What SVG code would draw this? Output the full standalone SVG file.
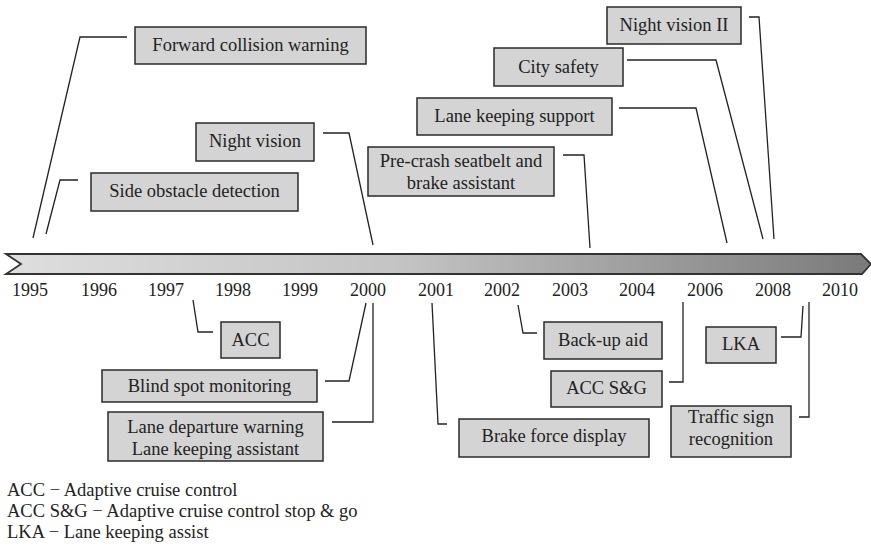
<svg xmlns="http://www.w3.org/2000/svg" width="871" height="546" viewBox="0 0 871 546">
<defs>
<linearGradient id="bar" x1="0" y1="0" x2="1" y2="0">
<stop offset="0" stop-color="#dedede"/>
<stop offset="0.45" stop-color="#c4c4c4"/>
<stop offset="1" stop-color="#7a7a7a"/>
</linearGradient>
<style>
.box{fill:#d4d4d4;stroke:#2a2a2a;stroke-width:1.5}
.t{font-family:"Liberation Serif","Times New Roman",serif;font-size:18.5px;fill:#222;text-anchor:middle}
.y{font-family:"Liberation Serif","Times New Roman",serif;font-size:18px;fill:#222;text-anchor:middle}
.l{font-family:"Liberation Serif","Times New Roman",serif;font-size:18.5px;fill:#222}
.c{fill:none;stroke:#222;stroke-width:1.3}
</style>
</defs>
<rect width="871" height="546" fill="#fff"/>
<g id="timeline">
<path d="M6,254 L861,254 L871,264 L862,274 L6,274 L21,264 Z" fill="url(#bar)" stroke="#333" stroke-width="1.8"/>
</g>
<g id="years">
<text class="y" x="30" y="296">1995</text>
<text class="y" x="99" y="296">1996</text>
<text class="y" x="166" y="296">1997</text>
<text class="y" x="233" y="296">1998</text>
<text class="y" x="300" y="296">1999</text>
<text class="y" x="368" y="296">2000</text>
<text class="y" x="436" y="296">2001</text>
<text class="y" x="502" y="296">2002</text>
<text class="y" x="570" y="296">2003</text>
<text class="y" x="637" y="296">2004</text>
<text class="y" x="705" y="296">2006</text>
<text class="y" x="773" y="296">2008</text>
<text class="y" x="840" y="296">2010</text>
</g>
<g id="connectors">
<polyline class="c" points="127,37 80,37 33,238"/>
<polyline class="c" points="78,180 60,180 46,234"/>
<polyline class="c" points="323,133 349,133 373,245"/>
<polyline class="c" points="563,155 584,155 590,248"/>
<polyline class="c" points="619,108 696,108 727,243"/>
<polyline class="c" points="627,60 716,60 763,239"/>
<polyline class="c" points="749,17 759,17 774,239"/>
<polyline class="c" points="193,300 198,332 213,332"/>
<polyline class="c" points="325,381 349,381 366,303"/>
<polyline class="c" points="332,422 373,422 373,303"/>
<polyline class="c" points="432,303 438,424 447,424"/>
<polyline class="c" points="518,305 523,333 537,333"/>
<polyline class="c" points="669,382 683,382 683,302"/>
<polyline class="c" points="781,337 801,337 803,306"/>
<polyline class="c" points="799,417 809,417 809,302"/>
</g>
<g id="fcw"><rect class="box" x="135" y="27" width="231" height="37"/><text class="t" x="250.5" y="51">Forward collision warning</text></g>
<g id="sod"><rect class="box" x="91" y="173" width="207" height="38"/><text class="t" x="194.5" y="197">Side obstacle detection</text></g>
<g id="nv"><rect class="box" x="196" y="123" width="118" height="38"/><text class="t" x="255" y="147">Night vision</text></g>
<g id="precrash"><rect class="box" x="368" y="147" width="186" height="49"/><text class="t" x="461" y="167">Pre-crash seatbelt and</text><text class="t" x="461" y="189">brake assistant</text></g>
<g id="lks"><rect class="box" x="417" y="98" width="195" height="37"/><text class="t" x="514.5" y="122">Lane keeping support</text></g>
<g id="city"><rect class="box" x="494" y="48" width="129" height="38"/><text class="t" x="558.5" y="73">City safety</text></g>
<g id="nv2"><rect class="box" x="607" y="7" width="134" height="37"/><text class="t" x="674" y="31">Night vision II</text></g>
<g id="acc"><rect class="box" x="221" y="322" width="59" height="36"/><text class="t" x="250.5" y="346">ACC</text></g>
<g id="bsm"><rect class="box" x="102" y="370" width="215" height="32"/><text class="t" x="209.5" y="392">Blind spot monitoring</text></g>
<g id="ldw"><rect class="box" x="108" y="412" width="215" height="49"/><text class="t" x="215.5" y="433">Lane departure warning</text><text class="t" x="215.5" y="455">Lane keeping assistant</text></g>
<g id="bfd"><rect class="box" x="459" y="419" width="190" height="38"/><text class="t" x="554" y="442">Brake force display</text></g>
<g id="bua"><rect class="box" x="544" y="322" width="118" height="37"/><text class="t" x="603" y="346">Back-up aid</text></g>
<g id="accsg"><rect class="box" x="551" y="371" width="111" height="36"/><text class="t" x="606.5" y="394">ACC S&amp;G</text></g>
<g id="lka"><rect class="box" x="706" y="327" width="70" height="36"/><text class="t" x="741" y="350">LKA</text></g>
<g id="tsr"><rect class="box" x="671" y="406" width="120" height="51"/><text class="t" x="731" y="423">Traffic sign</text><text class="t" x="731" y="445">recognition</text></g>
<g id="legend">
<text class="l" x="7" y="496">ACC − Adaptive cruise control</text>
<text class="l" x="7" y="517">ACC S&amp;G − Adaptive cruise control stop &amp; go</text>
<text class="l" x="7" y="538">LKA − Lane keeping assist</text>
</g>
</svg>
